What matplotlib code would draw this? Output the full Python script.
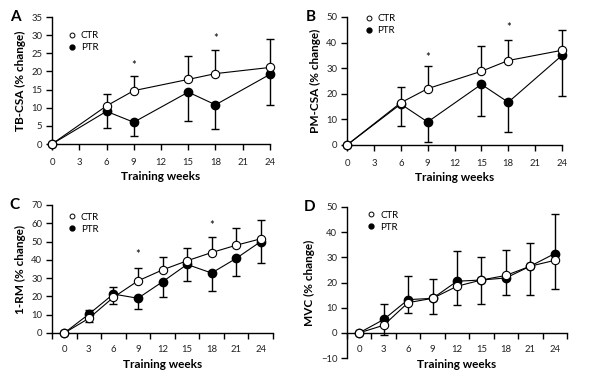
import matplotlib
matplotlib.use('Agg')
import matplotlib.pyplot as plt
from matplotlib.lines import Line2D

plt.rcParams['font.family'] = ['Lato', 'DejaVu Sans']

# panel A: TB-CSA
a_weeks = [0, 6, 9, 15, 18, 24]
a_ctr = [0, 10.5, 14.7, 17.8, 19.4, 21.1]
a_ctr_err = [0, 3.3, 4.0, 6.4, 6.5, 7.8]
a_ptr = [0, 9.0, 6.0, 14.3, 10.8, 19.2]
a_ptr_err = [0, 4.5, 3.7, 7.9, 6.6, 8.4]
a_star_x = [9, 18]
a_star_y = [21.5, 29.0]

# panel B: PM-CSA
b_weeks = [0, 6, 9, 15, 18, 24]
b_ctr = [0, 16.5, 22.0, 28.8, 33.0, 37.0]
b_ctr_err = [0, 6.0, 8.7, 9.7, 8.2, 8.0]
b_ptr = [0, 16.0, 9.0, 23.7, 16.7, 35.0]
b_ptr_err = [0, 8.7, 8.0, 12.5, 11.7, 15.7]
b_star_x = [9, 18]
b_star_y = [34.0, 46.0]

# panel C: 1-RM
c_weeks = [0, 3, 6, 9, 12, 15, 18, 21, 24]
c_ctr = [0, 8.0, 19.5, 28.5, 34.5, 39.5, 44.0, 48.0, 51.5]
c_ctr_err = [0, 4.5, 5.5, 6.8, 7.3, 7.2, 8.7, 9.6, 10.5]
c_ptr = [0, 10.3, 21.3, 19.0, 28.0, 37.5, 32.8, 40.8, 50.0]
c_ptr_err = [0, 4.3, 5.3, 6.0, 8.5, 9.2, 10.0, 9.8, 11.5]
c_star_x = [9, 18]
c_star_y = [43.0, 59.0]

# panel D: MVC
d_weeks = [0, 3, 6, 9, 12, 15, 18, 21, 24]
d_ctr = [0, 3.0, 12.0, 13.7, 18.5, 21.0, 22.8, 26.5, 28.8]
d_ctr_err = [0, 4.0, 4.0, 6.2, 7.3, 9.5, 7.6, 11.3, 11.3]
d_ptr = [0, 5.3, 13.2, 13.7, 20.5, 21.0, 21.8, 26.5, 31.5]
d_ptr_err = [0, 6.2, 9.5, 7.8, 12.1, 9.3, 11.2, 9.3, 15.8]

fig = plt.figure(figsize=(5.9, 3.79), dpi=100)

panels = [
    dict(rect=[52/590, 1-144/379, 218/590, 127/379], letter='A', ylabel='TB-CSA (% change)',
         weeks=a_weeks, ctr=a_ctr, ce=a_ctr_err, ptr=a_ptr, pe=a_ptr_err,
         ylim=(0, 35), ystep=5, cat=False, sx=a_star_x, sy=a_star_y, ctr_up=True,
         leg=(0.06, 0.92)),
    dict(rect=[347/590, 1-145/379, 215/590, 128/379], letter='B', ylabel='PM-CSA (% change)',
         weeks=b_weeks, ctr=b_ctr, ce=b_ctr_err, ptr=b_ptr, pe=b_ptr_err,
         ylim=(0, 50), ystep=10, cat=False, sx=b_star_x, sy=b_star_y, ctr_up=True,
         leg=(0.07, 1.05)),
    dict(rect=[52/590, 1-333/379, 221/590, 128/379], letter='C', ylabel='1-RM (% change)',
         weeks=c_weeks, ctr=c_ctr, ce=c_ctr_err, ptr=c_ptr, pe=c_ptr_err,
         ylim=(0, 70), ystep=10, cat=True, sx=c_star_x, sy=c_star_y, ctr_up=True,
         leg=(0.06, 0.97)),
    dict(rect=[347/590, 1-358/379, 220/590, 151/379], letter='D', ylabel='MVC (% change)',
         weeks=d_weeks, ctr=d_ctr, ce=d_ctr_err, ptr=d_ptr, pe=d_ptr_err,
         ylim=(-10, 50), ystep=10, cat=True, sx=[], sy=[], ctr_up=False,
         leg=(0.08, 1.0)),
]

for p in panels:
    ax = fig.add_axes(p['rect'])
    w = p['weeks']
    z = [0] * len(w)
    if p['ctr_up']:
        ctr_yerr = [z, p['ce']]
        ptr_yerr = [p['pe'], z]
    else:
        ctr_yerr = [p['ce'], z]
        ptr_yerr = [z, p['pe']]
    for vals, err in [(p['ctr'], ctr_yerr), (p['ptr'], ptr_yerr)]:
        eb = ax.errorbar(w, vals, yerr=err, fmt='none', ecolor='black', elinewidth=1,
                         capsize=3, capthick=1, zorder=2)
        for art in eb.lines[1] + eb.lines[2]:
            art.set_clip_on(False)
    ax.plot(w, p['ptr'], '-o', color='black', lw=0.8, ms=6, mfc='black', mec='black',
            zorder=3, clip_on=False)
    ax.plot(w, p['ctr'], '-o', color='black', lw=0.8, ms=6, mfc='white', mec='black',
            mew=0.8, zorder=4, clip_on=False)
    for x, y in zip(p['sx'], p['sy']):
        ax.text(x, y, '*', ha='center', va='center', fontsize=8)

    ax.spines['top'].set_visible(False)
    ax.spines['right'].set_visible(False)
    ax.spines['left'].set_linewidth(1)
    ax.spines['bottom'].set_linewidth(1)
    lo, hi = p['ylim']
    ax.set_ylim(lo, hi)
    ax.set_yticks(range(lo, hi + 1, p['ystep']))
    if p['cat']:
        ax.set_xlim(-1.5, 25.5)
        ax.spines['bottom'].set_position(('data', 0))
        ax.set_xticks(range(0, 25, 3))
        ax.set_xticks([x + 1.5 for x in range(-3, 25, 3)], minor=True)
        ax.tick_params(axis='x', which='major', length=0, pad=9)
        ax.tick_params(axis='x', which='minor', length=4, width=1, direction='out')
    else:
        ax.set_xlim(0, 24)
        ax.set_xticks(range(0, 25, 3))
        ax.tick_params(axis='x', length=4, width=1, pad=6)
    ax.tick_params(axis='y', length=4, width=1, pad=3)
    ax.tick_params(labelsize=6.8, colors='black', labelcolor='#222222')

    ax.set_ylabel(p['ylabel'], fontsize=8.5, fontweight='bold', labelpad=4)
    ax.set_xlabel('Training weeks', fontsize=8.5, fontweight='bold', labelpad=3)
    ax.text(-0.17, 1.0, p['letter'], transform=ax.transAxes, fontsize=11, fontweight='bold',
            ha='center', va='center')

    handles = [Line2D([], [], ls='none', marker='o', ms=3.5, mfc='white', mec='black', mew=0.7),
               Line2D([], [], ls='none', marker='o', ms=3.5, mfc='black', mec='black')]
    ax.legend(handles, ['CTR', 'PTR'], loc='upper left', bbox_to_anchor=p['leg'],
              frameon=False, fontsize=7, handlelength=0.6, handletextpad=0.6,
              labelspacing=0.3, borderaxespad=0)

fig.savefig('out.png', dpi=100)
